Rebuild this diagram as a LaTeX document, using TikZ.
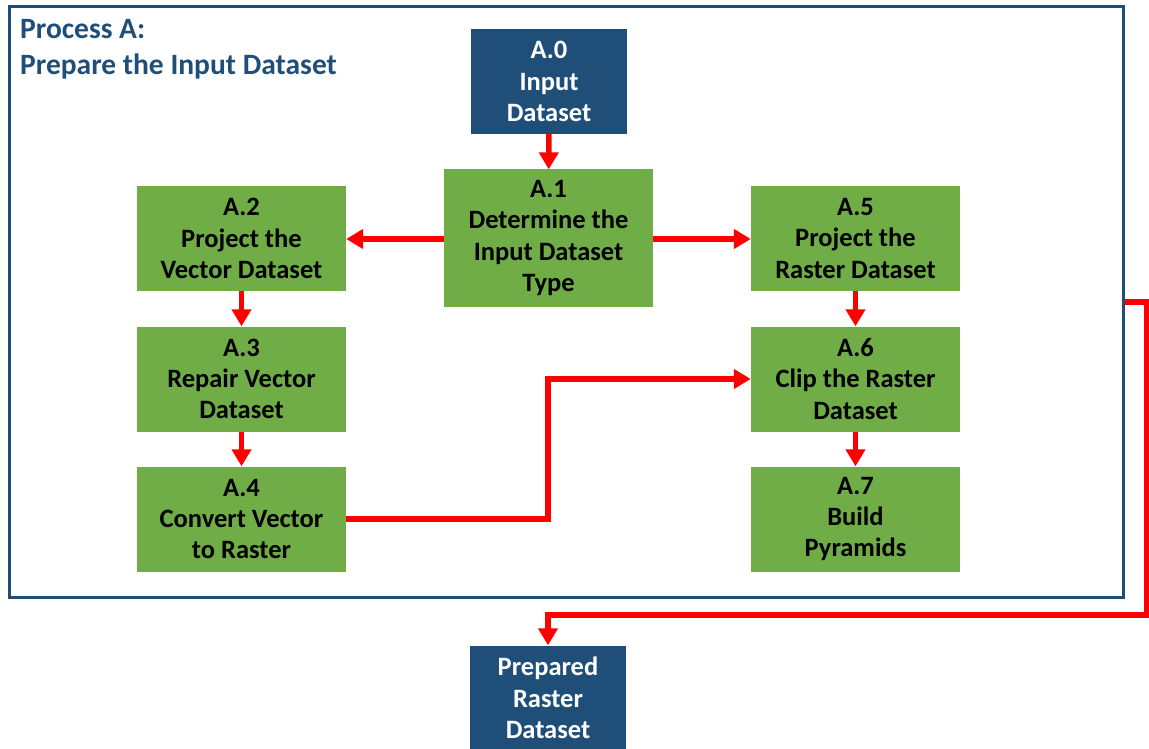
\documentclass[tikz,border=0pt]{standalone}
\usepackage{fontspec}
\setmainfont{Carlito}
\usetikzlibrary{arrows.meta}
\definecolor{dblue}{HTML}{1F4E79}
\definecolor{pgreen}{HTML}{70AD47}
\definecolor{pred}{HTML}{FF0000}
\tikzset{
  box/.style={rectangle, inner sep=0pt, minimum width=209pt, minimum height=105pt, fill=pgreen, text=black, align=center, font=\fontsize{26.5}{31.3}\selectfont\bfseries},
  bluebox/.style={rectangle, inner sep=0pt, minimum width=156pt, minimum height=105pt, fill=dblue, text=white, align=center, font=\fontsize{26.5}{31.3}\selectfont\bfseries},
  flow/.style={draw=pred, line width=5.5pt, -{Triangle[length=17pt,width=19pt]}},
  frame/.style={rectangle, draw=dblue, line width=3pt, inner sep=0pt, minimum width=1114pt, minimum height=590pt},
  title/.style={text=dblue, anchor=base west, inner sep=0pt, font=\fontsize{29.5}{36}\selectfont\bfseries}
}
\begin{document}
\begin{tikzpicture}[x=1pt,y=-1pt]
\useasboundingbox (0,0) rectangle (1149,749);
\node[frame] (frame) at (566,302) {};
\node[title] (t1) at (20,39) {Process A:};
\node[title] (t2) at (20,75) {Prepare the Input Dataset};
\node[bluebox] (A0) at (549,81.5) {A.0\\Input\\Dataset};
\node[box, minimum height=137pt] (A1) at (548.5,238) {A.1\\Determine the\\Input Dataset\\Type};
\node[box] (A2) at (241.5,238.5) {A.2\\Project the\\Vector Dataset};
\node[box] (A3) at (241.5,379) {A.3\\Repair Vector\\Dataset};
\node[box] (A4) at (241.5,519) {A.4\\Convert Vector\\to Raster};
\node[box] (A5) at (855.5,238.5) {A.5\\Project the\\Raster Dataset};
\node[box] (A6) at (855.5,379) {A.6\\Clip the Raster\\Dataset};
\node[box] (A7) at (855.5,519) {A.7\\Build\\Pyramids};
\node[bluebox] (P) at (548,698) {Prepared\\Raster\\Dataset};
\draw[flow] (A0) -- (A1);
\draw[flow] (A1.west |- 0,239) -- (A2.east |- 0,239);
\draw[flow] (A1.east |- 0,239) -- (A5.west |- 0,239);
\draw[flow] (A2) -- (A3);
\draw[flow] (A3) -- (A4);
\draw[flow] (A5) -- (A6);
\draw[flow] (A6) -- (A7);
\coordinate (m) at (548,450);
\draw[flow] (A4.east) -| (m) |- (A6.west);
\coordinate (c1) at (1146.5,615);
\draw[flow] (frame.east) -| (c1) -| (P.north);
\end{tikzpicture}
\end{document}
